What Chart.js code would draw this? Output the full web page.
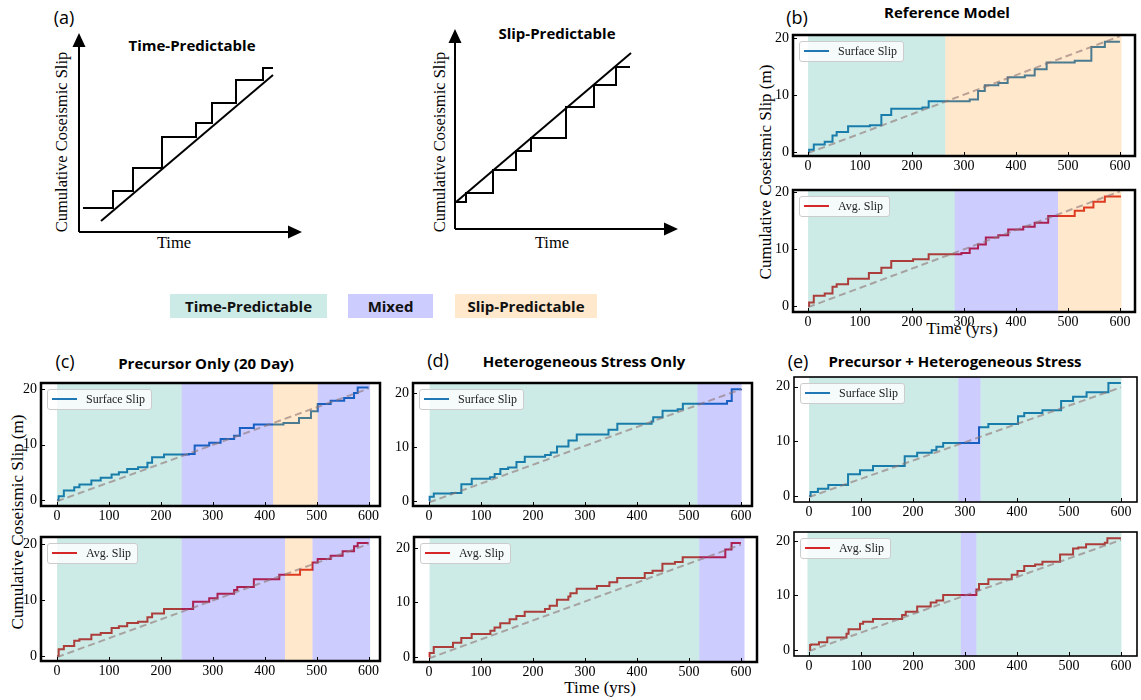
<!DOCTYPE html>
<html>
<head>
<meta charset="utf-8">
<script src="https://cdn.jsdelivr.net/npm/chart.js@4.4.1/dist/chart.umd.min.js"></script>
<style>
  body { margin: 0; background: #fff; }
  #page { position: relative; width: 1141px; height: 700px; overflow: hidden; background: #fff; }
  canvas { position: absolute; }
  .t { position: absolute; white-space: nowrap; transform: translate(-50%, -50%); color: #000; }
  .serif { font-family: 'Liberation Serif', 'Times New Roman', serif; }
  .title { font-family: 'Open Sans', 'Noto Sans', sans-serif; font-weight: 700; font-size: 15px; }
  .tag { font-family: 'Open Sans', 'Noto Sans', sans-serif; font-size: 18px; }
  .rot { transform: translate(-50%, -50%) rotate(-90deg); }
  .key { position: absolute; height: 24px; line-height: 24px; text-align: center;
         font-family: 'Open Sans', 'Noto Sans', sans-serif; font-weight: 700; font-size: 15px; color: #111; }
  .leg { position: absolute; z-index: 5; height: 19px; line-height: 19px; padding: 0 6px 0 4px;
         background: rgba(255,255,255,0.8); border: 1px solid #ccc; border-radius: 3px;
         font-family: 'Liberation Serif', serif; font-size: 12px; color: #222; }
  .leg i { display: inline-block; width: 25px; height: 2px; vertical-align: middle; margin: -2px 9px 0 0; }
</style>
</head>
<body>
<div id="page">
  <!-- panel (a) -->
  <div class="t tag" style="left:64px;top:17px">(a)</div>
  <div class="t title" style="left:192px;top:45px">Time-Predictable</div>
  <div class="t title" style="left:557px;top:33px">Slip-Predictable</div>
  <div class="t serif rot" style="left:62px;top:142px;font-size:16.5px">Cumulative Coseismic Slip</div>
  <div class="t serif" style="left:174px;top:243px;font-size:16.5px">Time</div>
  <div class="t serif rot" style="left:440px;top:142px;font-size:16.5px">Cumulative Coseismic Slip</div>
  <div class="t serif" style="left:552px;top:243px;font-size:16.5px">Time</div>

  <div class="key" style="left:170px;top:294px;width:157px;background:rgb(204,234,230)">Time-Predictable</div>
  <div class="key" style="left:348px;top:294px;width:85px;background:rgb(204,204,255)">Mixed</div>
  <div class="key" style="left:455px;top:294px;width:142px;background:rgb(255,232,204)">Slip-Predictable</div>

  <!-- panel headings -->
  <div class="t tag" style="left:797px;top:17px">(b)</div>
  <div class="t title" style="left:947px;top:12px">Reference Model</div>
  <div class="t tag" style="left:65px;top:361px">(c)</div>
  <div class="t title" style="left:206px;top:363px">Precursor Only (20 Day)</div>
  <div class="t tag" style="left:438px;top:360px">(d)</div>
  <div class="t title" style="left:584px;top:361px">Heterogeneous Stress Only</div>
  <div class="t tag" style="left:798px;top:361px">(e)</div>
  <div class="t title" style="left:955px;top:361px">Precursor + Heterogeneous Stress</div>

  <div class="t serif rot" style="left:766px;top:172px;font-size:17px">Cumulative Coseismic Slip (m)</div>
  <div class="t serif rot" style="left:18px;top:522px;font-size:17px">Cumulative Coseismic Slip (m)</div>
  <div class="t serif" style="left:962px;top:329px;font-size:17px">Time (yrs)</div>
  <div class="t serif" style="left:600px;top:688px;font-size:17px">Time (yrs)</div>
</div>

<script>
// ---- tick values ----
const xTicks = [0, 100, 200, 300, 400, 500, 600];
const yTicks = [0, 10, 20];

// ---- (a) schematics ----
const tpTime = [4, 34, 54, 83, 117, 133, 157, 184, 194];
const tpSlip = [24, 41, 64, 95, 109, 129, 152, 164, 164];
const tpLineTime = [22, 194];
const tpLineSlip = [11, 157];

const spTime = [1, 11, 38, 61, 76, 111, 139, 161, 175];
const spSlip = [27, 36, 59, 78, 91, 122, 144, 162, 162];
const spLineTime = [1, 176];
const spLineSlip = [27, 176];

// ---- (b) reference model ----
const bSurfTime = [0, 2, 11, 32, 47, 55, 77, 119, 141, 160, 220, 232, 311, 327, 340, 366, 384, 417, 436, 459, 513, 545, 571, 600];
const bSurfSlip = [0, 0.4, 1.3, 1.8, 2.9, 3.5, 4.5, 4.7, 6.5, 7.6, 7.8, 8.9, 9.2, 10.7, 11.7, 12.1, 13.1, 13.4, 14.5, 15.7, 16.0, 18.4, 19.3, 19.3];
const bSurfZones = [[0, 264, 'TP'], [264, 603, 'SP']];
const bSurfTrend = [-0.2, 20.3];

const bAvgTime = [0, 2, 11, 32, 47, 55, 77, 117, 141, 160, 202, 232, 295, 311, 327, 342, 366, 385, 414, 436, 462, 513, 531, 549, 571, 600];
const bAvgSlip = [0, 0.6, 1.8, 2.2, 3.4, 3.8, 4.8, 5.8, 6.7, 7.9, 8.2, 9.1, 9.3, 10.1, 10.8, 12.0, 12.4, 13.4, 13.9, 14.6, 15.8, 16.7, 17.3, 18.3, 19.2, 19.4];
const bAvgZones = [[0, 282, 'TP'], [282, 481, 'MX'], [481, 603, 'SP']];
const bAvgTrend = [-0.2, 20.1];

// ---- (c) precursor only ----
const cSurfTime = [0, 3, 13, 33, 43, 66, 84, 105, 119, 135, 156, 174, 183, 206, 254, 265, 293, 315, 341, 352, 379, 436, 466, 489, 502, 527, 553, 572, 579, 600];
const cSurfSlip = [0, 0.65, 1.7, 2.3, 2.8, 3.5, 4.0, 4.6, 5.0, 5.6, 5.9, 6.7, 7.7, 8.2, 8.3, 9.8, 10.3, 11.0, 11.6, 13.0, 13.6, 13.9, 14.8, 16.0, 17.3, 17.9, 18.4, 19.3, 20.3, 20.3];
const cSurfZones = [[0, 240, 'TP'], [240, 416, 'MX'], [416, 502, 'SP'], [502, 603, 'MX']];
const cSurfTrend = [-0.25, 20.1];

const cAvgTime = [0, 3, 13, 33, 43, 66, 84, 105, 119, 135, 156, 174, 183, 206, 262, 293, 309, 341, 347, 379, 428, 468, 492, 502, 527, 550, 572, 579, 600];
const cAvgSlip = [0, 1.2, 1.8, 2.7, 3.0, 3.8, 4.1, 5.0, 5.3, 5.9, 6.1, 6.9, 7.6, 8.4, 9.7, 10.3, 11.1, 11.8, 12.3, 13.7, 14.5, 15.4, 16.7, 17.3, 17.9, 18.7, 19.6, 20.2, 20.2];
const cAvgZones = [[0, 240, 'TP'], [240, 439, 'MX'], [439, 492, 'SP'], [492, 603, 'MX']];
const cAvgTrend = [-0.2, 20.0];

// ---- (d) heterogeneous stress only ----
const dSurfTime = [0, 1, 9, 43, 62, 82, 117, 126, 137, 152, 168, 184, 223, 234, 246, 268, 284, 345, 362, 428, 431, 449, 478, 488, 573, 582, 600];
const dSurfSlip = [0, 0.8, 1.4, 1.5, 3.1, 4.1, 4.4, 5.0, 5.9, 6.2, 7.2, 8.2, 8.5, 9.0, 10.1, 11.2, 12.3, 13.2, 14.3, 14.7, 15.5, 16.7, 17.0, 18.0, 18.5, 20.7, 20.8];
const dSurfZones = [[1, 516, 'TP'], [516, 601, 'MX']];
const dSurfTrend = [-0.25, 20.7];

const dAvgTime = [0, 1, 9, 46, 62, 82, 118, 126, 137, 155, 168, 184, 223, 232, 246, 268, 272, 284, 323, 347, 362, 415, 430, 449, 473, 488, 570, 582, 600];
const dAvgSlip = [0, 0.75, 1.85, 2.6, 3.5, 4.2, 4.8, 5.4, 6.2, 6.9, 7.5, 8.3, 8.8, 9.4, 10.5, 11.1, 11.7, 12.5, 13.0, 13.7, 14.5, 15.4, 15.8, 17.1, 17.4, 18.3, 19.7, 20.9, 20.9];
const dAvgZones = [[1, 520, 'TP'], [520, 607, 'MX']];
const dAvgTrend = [-0.25, 20.6];

// ---- (e) precursor + heterogeneous stress ----
const eSurfTime = [0, 3, 17, 37, 75, 98, 123, 184, 208, 236, 245, 258, 327, 345, 402, 414, 449, 485, 508, 534, 576, 600];
const eSurfSlip = [0, 0.75, 1.35, 2.0, 4.0, 4.7, 5.5, 7.3, 7.9, 8.4, 9.0, 9.7, 12.6, 13.2, 14.6, 15.2, 15.7, 17.4, 18.2, 19.0, 20.7, 20.7];
const eSurfZones = [[0, 287, 'TP'], [287, 330, 'MX'], [330, 601, 'TP']];
const eSurfTrend = [-0.2, 19.9];

const eAvgTime = [0, 2, 4, 19, 35, 72, 76, 98, 104, 123, 179, 186, 208, 234, 245, 258, 322, 327, 345, 390, 401, 414, 435, 449, 483, 508, 518, 533, 569, 574, 600];
const eAvgSlip = [0, 0.9, 1.0, 1.4, 2.3, 3.0, 3.8, 4.8, 5.2, 5.7, 6.4, 7.0, 8.0, 8.7, 9.1, 10.1, 11.1, 12.1, 13.0, 13.8, 14.5, 15.4, 15.7, 16.2, 17.5, 18.6, 18.8, 19.4, 19.7, 20.5, 20.5];
const eAvgZones = [[-3, 292, 'TP'], [292, 322, 'MX'], [322, 601, 'TP']];
const eAvgTrend = [-0.2, 20.2];

// ---- styling / layout ----
const zoneColors = { TP: 'rgba(0,150,130,0.2)', MX: 'rgba(0,0,255,0.2)', SP: 'rgba(255,140,0,0.2)' };
const SURF = { label: 'Surface Slip', color: '#1f77b4' };
const AVG = { label: 'Avg. Slip', color: '#d62728' };
const YW = 40, XH = 24, PAD = 6;
const page = document.getElementById('page');

const panels = [
  { t: bSurfTime, s: bSurfSlip, zones: bSurfZones, trend: bSurfTrend, kind: SURF, L: 793, R: 1135, T: 35, B: 156, xr: [-29, 629], yr: [-0.7, 20.5], lw: 2.5 },
  { t: bAvgTime, s: bAvgSlip, zones: bAvgZones, trend: bAvgTrend, kind: AVG, L: 793, R: 1135, T: 190, B: 312, xr: [-29, 629], yr: [-1.05, 20.35], lw: 2.5 },
  { t: cSurfTime, s: cSurfSlip, zones: cSurfZones, trend: cSurfTrend, kind: SURF, L: 41, R: 380, T: 383, B: 506, xr: [-31, 622], yr: [-1.1, 21.1], lw: 2.5 },
  { t: cAvgTime, s: cAvgSlip, zones: cAvgZones, trend: cAvgTrend, kind: AVG, L: 41, R: 380, T: 537, B: 661, xr: [-31, 622], yr: [-0.9, 21.25], lw: 2.5 },
  { t: dSurfTime, s: dSurfSlip, zones: dSurfZones, trend: dSurfTrend, kind: SURF, L: 413, R: 752, T: 383, B: 506, xr: [-31, 621], yr: [-0.93, 21.85], lw: 2.5 },
  { t: dAvgTime, s: dAvgSlip, zones: dAvgZones, trend: dAvgTrend, kind: AVG, L: 414, R: 757, T: 537, B: 662, xr: [-29, 631], yr: [-0.92, 22.0], lw: 2.5 },
  { t: eSurfTime, s: eSurfSlip, zones: eSurfZones, trend: eSurfTrend, kind: SURF, L: 794, R: 1137, T: 377, B: 502, xr: [-29, 631], yr: [-1.1, 21.8], lw: 1.6 },
  { t: eAvgTime, s: eAvgSlip, zones: eAvgZones, trend: eAvgTrend, kind: AVG, L: 794, R: 1137, T: 532, B: 656, xr: [-29, 631], yr: [-1.1, 21.65], lw: 1.6 }
];

function addCanvas(left, top, w, h) {
  const c = document.createElement('canvas');
  c.width = w; c.height = h;
  c.style.left = left + 'px'; c.style.top = top + 'px';
  c.style.width = w + 'px'; c.style.height = h + 'px';
  page.appendChild(c);
  return c;
}

// regime shading goes over the step line (index 1) but under the dashed trend (index 0)
const panelPlugin = {
  id: 'panel',
  afterDatasetDraw(chart, args, opts) {
    if (args.index !== 1) return;
    const { ctx, chartArea: a, scales: { x } } = chart;
    ctx.save();
    ctx.beginPath();
    ctx.rect(a.left, a.top, a.width, a.height);
    ctx.clip();
    opts.zones.forEach(([start, end, k]) => {
      const x0 = x.getPixelForValue(start), x1 = x.getPixelForValue(end);
      ctx.fillStyle = zoneColors[k];
      ctx.fillRect(x0, a.top, x1 - x0, a.height);
    });
    ctx.restore();
  },
  afterDraw(chart, args, opts) {
    const { ctx, chartArea: a, scales: { x, y } } = chart;
    ctx.save();
    ctx.strokeStyle = '#000';
    ctx.lineWidth = 1;
    ctx.beginPath();
    xTicks.forEach(v => {
      const px = Math.round(x.getPixelForValue(v)) + 0.5;
      ctx.moveTo(px, a.bottom); ctx.lineTo(px, a.bottom - 4);
    });
    yTicks.forEach(v => {
      const py = Math.round(y.getPixelForValue(v)) + 0.5;
      ctx.moveTo(a.left, py); ctx.lineTo(a.left + 4, py);
    });
    ctx.stroke();
    ctx.lineWidth = opts.lw;
    ctx.strokeRect(a.left, a.top, a.width, a.height);
    ctx.restore();
  }
};

function axis(range, ticks, isX) {
  return {
    type: 'linear',
    min: range[0],
    max: range[1],
    afterBuildTicks: sc => { sc.ticks = ticks.map(v => ({ value: v })); },
    afterFit: sc => {
      if (isX) sc.height = XH; else sc.width = YW;
      sc.paddingTop = 0; sc.paddingBottom = 0; sc.paddingLeft = 0; sc.paddingRight = 0;
    },
    grid: { display: false, drawTicks: false },
    border: { display: false },
    ticks: {
      color: '#000',
      padding: isX ? 2 : 4,
      autoSkip: false,
      maxRotation: 0,
      font: { family: 'Liberation Serif', size: 14 }
    }
  };
}

panels.forEach(p => {
  const w = (p.R - p.L) + YW + PAD;
  const h = (p.B - p.T) + PAD + XH;
  const cv = addCanvas(p.L - YW, p.T - PAD, w, h);

  new Chart(cv, {
    type: 'scatter',
    data: {
      datasets: [
        {
          data: [{ x: 0, y: p.trend[0] }, { x: 600, y: p.trend[1] }],
          showLine: true,
          borderColor: 'rgba(140,115,115,0.6)',
          borderDash: [7, 4],
          borderWidth: 2,
          pointRadius: 0,
          fill: false
        },
        {
          data: p.t.map((v, i) => ({ x: v, y: p.s[i] })),
          showLine: true,
          stepped: true,
          borderColor: p.kind.color,
          borderWidth: 2,
          pointRadius: 0,
          fill: false
        }
      ]
    },
    options: {
      responsive: false,
      animation: false,
      devicePixelRatio: 1,
      layout: { padding: { top: PAD, right: PAD, left: 0, bottom: 0 } },
      scales: { x: axis(p.xr, xTicks, true), y: axis(p.yr, yTicks, false) },
      plugins: {
        legend: { display: false },
        tooltip: { enabled: false },
        panel: { zones: p.zones, lw: p.lw }
      }
    },
    plugins: [panelPlugin]
  });

  const leg = document.createElement('div');
  leg.className = 'leg';
  leg.style.left = (p.L + 6) + 'px';
  leg.style.top = (p.T + 6) + 'px';
  leg.innerHTML = '<i style="background:' + p.kind.color + '"></i>' + p.kind.label;
  page.appendChild(leg);
});

// ---- schematic charts for (a) ----
const arrowPlugin = {
  id: 'arrows',
  beforeDatasetsDraw(chart, args, opts) {
    const { ctx, scales: { x, y } } = chart;
    const ox = x.getPixelForValue(0), oy = y.getPixelForValue(0);
    const ex = x.getPixelForValue(opts.end[0]), ey = y.getPixelForValue(opts.end[1]);
    ctx.save();
    ctx.strokeStyle = '#000';
    ctx.fillStyle = '#000';
    ctx.lineWidth = 2;
    ctx.beginPath();
    ctx.moveTo(ox, oy); ctx.lineTo(ex - 12, oy);
    ctx.moveTo(ox, oy); ctx.lineTo(ox, ey + 12);
    ctx.stroke();
    ctx.beginPath();
    ctx.moveTo(ex, oy); ctx.lineTo(ex - 14, oy - 6.5); ctx.lineTo(ex - 14, oy + 6.5); ctx.closePath();
    ctx.moveTo(ox, ey); ctx.lineTo(ox - 6.5, ey + 14); ctx.lineTo(ox + 6.5, ey + 14); ctx.closePath();
    ctx.fill();
    ctx.restore();
  }
};

function schematic(ox, oy, time, slip, lineT, lineS, end) {
  const cv = addCanvas(ox - 10, oy - 210, 260, 220);
  new Chart(cv, {
    type: 'scatter',
    data: {
      datasets: [
        {
          data: time.map((v, i) => ({ x: v, y: slip[i] })),
          showLine: true, stepped: true,
          borderColor: '#000', borderWidth: 2, pointRadius: 0
        },
        {
          data: lineT.map((v, i) => ({ x: v, y: lineS[i] })),
          showLine: true,
          borderColor: '#000', borderWidth: 2, pointRadius: 0
        }
      ]
    },
    options: {
      responsive: false,
      animation: false,
      devicePixelRatio: 1,
      layout: { padding: 10 },
      scales: {
        x: { type: 'linear', display: false, min: 0, max: 240 },
        y: { type: 'linear', display: false, min: 0, max: 200 }
      },
      plugins: { legend: { display: false }, tooltip: { enabled: false }, arrows: { end } }
    },
    plugins: [arrowPlugin]
  });
}

schematic(79, 232, tpTime, tpSlip, tpLineTime, tpLineSlip, [223, 199]);
schematic(455, 229, spTime, spSlip, spLineTime, spLineSlip, [223, 200]);
</script>
</body>
</html>
